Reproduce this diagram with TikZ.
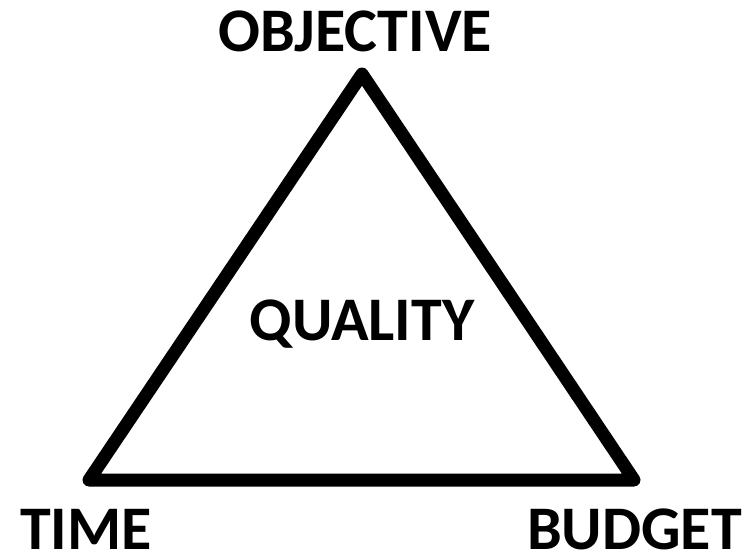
\documentclass[tikz,border=0pt]{standalone}
\usepackage{fontspec}
\setmainfont{Carlito}
\usetikzlibrary{positioning}

\begin{document}
\begin{tikzpicture}[x=1pt, y=-1pt,
    corner/.style={font=\fontsize{62}{66}\selectfont\bfseries, inner sep=0pt, text depth=0pt}]
    \useasboundingbox (0,0) rectangle (754,555);

    % Triangle corners
    \coordinate (apex) at (362,74);
    \coordinate (lowleft) at (89,480);
    \coordinate (lowright) at (634,480);

    % Triangle
    \draw[line width=13pt, line join=round] (apex) -- (lowleft) -- (lowright) -- cycle;

    % Labels
    \node[corner, anchor=base] (objective) at (355,51) {OBJECTIVE};
    \node[corner, anchor=base west] (time) at (20,549) {TIME};
    \node[corner, anchor=base east] (budget) at (742,549) {BUDGET};
    \node[corner, anchor=base] (quality) at (362,340) {QUALITY};
\end{tikzpicture}
\end{document}
